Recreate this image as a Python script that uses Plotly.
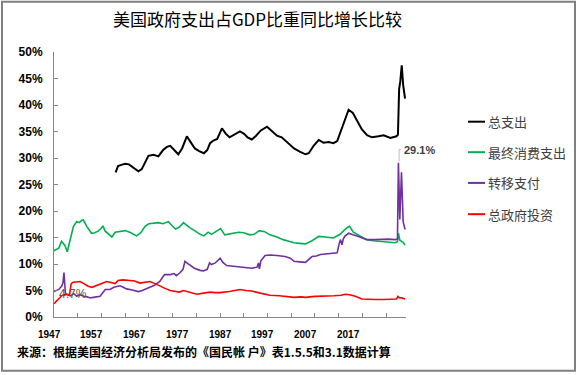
import plotly.graph_objects as go

# ---------------- data ----------------
total_x = [1960.0, 1960.5, 1961.2, 1962.0, 1962.8, 1963.8, 1964.8, 1965.5, 1966.3, 1966.9,
           1968.0, 1969.0, 1970.0, 1970.8, 1971.5, 1972.3, 1973.2, 1974.0, 1975.0, 1975.8,
           1976.7, 1977.6, 1978.6, 1979.3, 1979.9, 1980.6, 1981.4, 1982.4, 1983.2, 1984.0,
           1985.0, 1986.2, 1987.0, 1987.8, 1988.7, 1989.6, 1990.6, 1991.9, 1992.8, 1994.0,
           1995.0, 1996.3, 1997.6, 1998.8, 2000.0, 2000.7, 2001.8, 2002.8, 2003.8, 2004.9,
           2005.9, 2006.7, 2007.3, 2008.2, 2009.1, 2010.0, 2011.0, 2011.9, 2013.0, 2014.0,
           2015.4, 2016.5, 2017.9, 2019.2, 2019.5, 2019.75, 2020.0, 2020.3, 2020.6, 2021.0]
total_y = [27.3, 28.5, 28.7, 28.9, 28.8, 28.1, 27.5, 27.9, 29.5, 30.4,
           30.6, 30.3, 31.5, 32.1, 32.3, 31.6, 30.7, 31.8, 34.1, 33.0,
           31.8, 31.3, 30.9, 31.5, 32.8, 33.3, 33.6, 35.6, 34.6, 33.9,
           34.4, 35.0, 34.6, 33.9, 33.5, 34.2, 35.2, 35.9, 35.2, 34.2,
           33.9, 32.8, 31.8, 31.2, 30.7, 30.9, 32.4, 33.4, 32.9, 33.0,
           32.8, 33.2, 34.6, 37.0, 39.1, 38.5, 36.8, 35.4, 34.3, 33.9,
           34.1, 34.3, 33.8, 34.1, 34.4, 43.0, 44.5, 47.5, 43.8, 41.2]

cons_x = [1947.0, 1947.5, 1948.0, 1948.6, 1949.3, 1949.8, 1950.5, 1951.1, 1951.8, 1952.3,
          1952.8, 1953.2, 1953.9, 1954.5, 1954.9, 1955.6, 1956.3, 1957.0, 1957.3, 1957.8,
          1958.5, 1959.2, 1959.9, 1961.0, 1962.0, 1963.2, 1964.4, 1965.3, 1966.2, 1967.0,
          1967.9, 1969.0, 1970.0, 1971.1, 1971.6, 1972.6, 1973.5, 1974.3, 1975.0, 1975.7,
          1976.8, 1977.8, 1978.6, 1979.5, 1980.2, 1981.0, 1982.1, 1983.0, 1984.0, 1985.0,
          1985.9, 1987.0, 1988.3, 1989.2, 1990.3, 1991.4, 1992.5, 1994.0, 1995.3, 1996.5,
          1997.6, 1998.8, 2000.0, 2001.4, 2002.8, 2004.2, 2005.9, 2007.3, 2008.7, 2009.3,
          2010.1, 2011.5, 2012.9, 2014.3, 2015.7, 2017.3, 2018.9, 2019.4, 2019.6, 2019.9,
          2020.25, 2020.6, 2021.0]
cons_y = [12.5, 12.8, 13.0, 14.3, 13.5, 12.3, 14.9, 17.1, 18.0, 17.8,
          18.2, 18.3, 17.1, 16.2, 15.8, 15.9, 16.2, 16.8, 17.2, 16.2,
          15.7, 15.1, 16.0, 16.1, 16.3, 15.9, 15.3, 15.9, 17.1, 17.6,
          17.7, 17.8, 17.6, 18.0, 17.5, 16.6, 17.0, 17.8, 17.3, 16.8,
          16.2, 15.6, 15.3, 16.0, 15.6, 16.0, 16.7, 15.5, 15.7, 15.8,
          16.0, 15.9, 15.5, 15.6, 16.3, 16.1, 15.5, 15.1, 14.6, 14.3,
          14.0, 13.9, 13.8, 14.4, 15.2, 15.1, 14.9, 15.6, 16.8, 17.1,
          16.0, 15.3, 14.6, 14.4, 14.3, 14.1, 14.0, 14.2, 15.8, 14.5,
          14.3, 14.1, 13.6]

trans_x = [1947.0, 1947.5, 1948.0, 1948.6, 1948.9, 1949.1, 1949.4, 1949.8, 1950.5, 1951.2,
           1951.8, 1952.5, 1953.3, 1954.0, 1954.6, 1955.3, 1956.0, 1956.7, 1957.8, 1958.8,
           1959.6, 1960.2, 1960.9, 1961.6, 1962.3, 1963.5, 1964.8, 1965.6, 1967.0, 1968.2,
           1969.3, 1970.3, 1971.5, 1972.3, 1972.8, 1973.5, 1974.2, 1974.6, 1975.0, 1975.5,
           1976.6, 1977.8, 1978.5, 1979.3, 1979.8, 1980.2, 1981.0, 1982.0, 1982.6, 1983.4,
           1984.5, 1986.2, 1987.5, 1988.7, 1989.8, 1990.1, 1990.3, 1990.6, 1991.5, 1992.5,
           1994.0, 1995.7, 1996.8, 1997.6, 1998.8, 2000.0, 2001.4, 2002.3, 2003.2, 2005.0,
           2006.7, 2007.1, 2007.4, 2007.7, 2008.0, 2008.4, 2009.1, 2010.0, 2010.9, 2012.0,
           2012.9, 2014.5, 2016.0, 2017.5, 2018.9, 2019.4, 2019.6, 2019.9, 2020.25, 2020.6,
           2021.0]
trans_y = [4.8, 5.0, 5.2, 5.8, 6.5, 8.4, 4.5, 4.2, 4.0, 4.4,
           3.9, 4.2, 3.9, 3.8, 3.6, 3.7, 3.8, 3.9, 5.2, 5.2,
           5.6, 5.8, 5.9, 5.6, 5.3, 5.1, 4.8, 5.0, 5.6, 6.0,
           6.7, 8.0, 8.0, 8.2, 7.8, 8.3, 9.0, 10.5, 10.2, 9.9,
           9.2, 8.8, 8.7, 9.0, 10.2, 9.9, 10.2, 11.1, 10.3, 9.7,
           9.6, 9.5, 9.4, 9.2, 9.4, 10.2, 9.1, 10.6, 11.6, 11.7,
           11.6, 11.4, 11.1, 10.5, 10.4, 10.3, 11.4, 11.5, 11.8, 12.0,
           12.1, 13.8, 14.6, 13.6, 14.8, 15.3, 15.8, 15.5, 15.3, 14.9,
           14.6, 14.6, 14.7, 14.7, 14.6, 14.7, 29.1, 18.4, 27.3, 18.0,
           16.5]

inv_x = [1947.0, 1947.5, 1948.0, 1948.6, 1949.0, 1949.8, 1950.3, 1950.6, 1950.9, 1951.5,
         1952.5, 1953.3, 1954.2, 1955.0, 1956.0, 1957.0, 1958.1, 1959.0, 1959.9, 1960.5,
         1961.5, 1963.0, 1964.0, 1965.1, 1966.2, 1967.2, 1968.3, 1969.3, 1970.4, 1971.5,
         1972.5, 1973.4, 1974.3, 1975.3, 1976.3, 1977.1, 1978.5, 1979.9, 1981.0, 1982.0,
         1984.0, 1985.0, 1986.2, 1987.5, 1988.7, 1990.5, 1992.5, 1994.5, 1996.0, 1997.6,
         1999.0, 2000.0, 2002.0, 2003.8, 2006.0, 2007.5, 2008.4, 2009.3, 2010.5, 2011.9,
         2013.5, 2014.7, 2016.5, 2018.0, 2019.2, 2019.5, 2019.8, 2020.3, 2021.0]
inv_y = [2.5, 3.0, 3.3, 4.0, 4.2, 4.3, 4.3, 6.2, 6.5, 6.6,
         6.7, 6.3, 5.8, 5.6, 6.0, 6.3, 6.7, 6.5, 6.3, 6.9,
         7.0, 6.9, 6.8, 6.4, 6.6, 6.7, 6.3, 5.8, 5.4, 5.0,
         4.8, 4.7, 5.0, 4.8, 4.5, 4.3, 4.5, 4.7, 4.6, 4.6,
         4.8, 5.0, 5.2, 5.0, 4.9, 4.5, 4.1, 4.0, 3.9, 3.7,
         3.8, 3.7, 3.9, 3.9, 4.0, 4.1, 4.3, 4.2, 3.9, 3.4,
         3.3, 3.3, 3.3, 3.3, 3.4, 3.9, 3.6, 3.6, 3.4]

series_names = ["总支出", "最终消费支出", "转移支付", "总政府投资"]
series_colors = ["#000000", "#00B050", "#7030A0", "#FF0000"]
year_labels = ["1947", "1957", "1967", "1977", "1987", "1997", "2007", "2017"]

title_text = "美国政府支出占GDP比重同比增长比较"
source_text = "来源：根据美国经济分析局发布的《国民帐 户》表1.5.5和3.1数据计算"
peak_label = "29.1%"
early_label = "4.7%"

# ---------------- figure ----------------
X0, X1 = 1947, 2021.2

fig = go.Figure()
xs = [total_x, cons_x, trans_x, inv_x]
ys = [total_y, cons_y, trans_y, inv_y]
widths = [2, 1.6, 1.6, 1.6]
for x, y, n, c, w in zip(xs, ys, series_names, series_colors, widths):
    fig.add_trace(go.Scatter(x=x, y=y, mode="lines", name=n,
                             line=dict(color=c, width=w), showlegend=False))

axis_grey = "#868686"

fig.update_layout(
    width=578, height=375,
    margin=dict(l=54, r=172, t=52, b=58),
    paper_bgcolor="white", plot_bgcolor="white",
    font=dict(family="Liberation Sans, Arial, sans-serif", color="#000000"),
    title=dict(text=title_text, x=257.5 / 578, xref="container", xanchor="center",
               y=1 - 20 / 375, yref="container", yanchor="middle",
               font=dict(family="Noto Sans CJK SC", size=17, color="#000000")),
    xaxis=dict(range=[X0, X1], showgrid=False, zeroline=False,
               showline=True, linecolor=axis_grey, linewidth=1,
               tick0=1947, dtick=5, ticks="inside", ticklen=4, tickcolor=axis_grey,
               showticklabels=False),
    yaxis=dict(range=[0, 50], dtick=5, ticksuffix="%", showgrid=False, zeroline=False,
               showline=True, linecolor=axis_grey, linewidth=1,
               ticks="inside", ticklen=4, tickcolor=axis_grey, ticklabelstandoff=8,
               tickfont=dict(family="Liberation Sans, Arial", size=12, color="#000000",
                             weight="bold")),
)

# x-axis category labels (placed as in the reference, every 9 years from 1946)
for i, lab in enumerate(year_labels):
    pos = 1946.0 + 9.0 * i
    fig.add_annotation(text=lab, x=(pos - X0) / (X1 - X0), y=(317.3 - 335) / 265,
                       xref="paper", yref="paper", showarrow=False,
                       xanchor="center", yanchor="middle",
                       font=dict(family="Liberation Sans, Arial", size=10,
                                 color="#000000", weight="bold"))

# manual legend on the right
leg_y = [0.737, 0.622, 0.506, 0.388]
for n, c, yy in zip(series_names, series_colors, leg_y):
    fig.add_shape(type="line", xref="paper", yref="paper",
                  x0=(468 - 54) / 352, x1=(485 - 54) / 352, y0=yy, y1=yy,
                  line=dict(color=c, width=2))
    fig.add_annotation(text=n, xref="paper", yref="paper",
                       x=(486 - 54) / 352, y=yy, xanchor="left", yanchor="middle",
                       showarrow=False,
                       font=dict(family="Noto Sans CJK SC", size=13, color="#404040"))

# data labels
fig.add_annotation(text=early_label, x=1951.1, y=4.4, xref="x", yref="y",
                   showarrow=False, xanchor="center", yanchor="middle",
                   font=dict(family="Liberation Sans, Arial", size=12, color="#595959"))
fig.add_shape(type="path", xref="x", yref="y",
              path="M 2019.75 29.3 L 2019.75 31.6 L 2020.15 31.6",
              line=dict(color="#BFBFBF", width=1))
fig.add_annotation(text=peak_label, x=2020.3, y=31.5, xref="x", yref="y",
                   showarrow=False, xanchor="left", yanchor="middle",
                   font=dict(family="Liberation Sans, Arial", size=11, color="#404040",
                             weight="bold"))

# source note
fig.add_annotation(text=source_text, xref="paper", yref="paper",
                   x=(15 - 54) / 352, y=(317.3 - 352) / 265, xanchor="left", yanchor="middle",
                   showarrow=False,
                   font=dict(family="Noto Sans CJK SC", size=12, color="#000000", weight="bold"))

# outer frame
fig.add_shape(type="rect", xref="paper", yref="paper",
              x0=(2 - 54) / 352, x1=(575 - 54) / 352,
              y0=(317.3 - 371) / 265, y1=(317.3 - 2) / 265,
              line=dict(color="#808080", width=2))

fig.write_html("out.html", config={"displayModeBar": False},
               post_script="document.body.style.margin='0';document.body.style.overflow='hidden';")
